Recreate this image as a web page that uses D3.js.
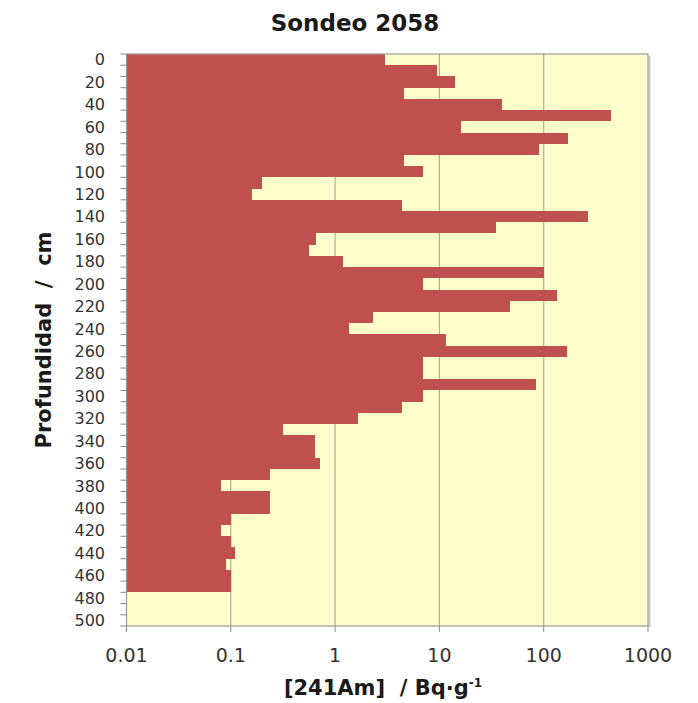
<!DOCTYPE html>
<html>
<head>
<meta charset="utf-8">
<script src="https://cdn.jsdelivr.net/npm/d3@7/dist/d3.min.js"></script>
<style>
  html, body { margin: 0; padding: 0; background: #ffffff; }
  svg { display: block; }
</style>
</head>
<body>
<svg id="chart" width="698" height="703"></svg>
<script>
// Depth of each 10 cm slice (cm)
const depths = [0, 10, 20, 30, 40, 50, 60, 70, 80, 90,
  100, 110, 120, 130, 140, 150, 160, 170, 180, 190,
  200, 210, 220, 230, 240, 250, 260, 270, 280, 290,
  300, 310, 320, 330, 340, 350, 360, 370, 380, 390,
  400, 410, 420, 430, 440, 450, 460, 470, 480, 490, 500];

// 241Am activity per slice (Bq/g); null = no measurement
const activity = [3.0, 9.5, 14, 4.6, 40, 440, 16, 172, 91, 4.6,
  7.0, 0.20, 0.16, 4.4, 265, 35, 0.65, 0.56, 1.2, 100,
  6.9, 133, 48, 2.3, 1.37, 11.6, 166, 6.9, 6.9, 84,
  6.9, 4.4, 1.66, 0.32, 0.64, 0.64, 0.71, 0.24, 0.08, 0.24,
  0.24, 0.10, 0.08, 0.10, 0.11, 0.09, 0.10, 0.10, null, null, null];

const yTickLabels = [0, 20, 40, 60, 80, 100, 120, 140, 160, 180, 200, 220, 240,
  260, 280, 300, 320, 340, 360, 380, 400, 420, 440, 460, 480, 500];
const xTickValues = [0.01, 0.1, 1, 10, 100, 1000];
const xTickLabels = ["0.01", "0.1", "1", "10", "100", "1000"];
const xGridValues = [0.1, 1, 10, 100];

const svg = d3.select("#chart");
const plotLeft = 126.5, plotRight = 648, plotTop = 54, plotBottom = 626;
const font = "'DejaVu Sans', Verdana, sans-serif";
const barColor = "#c0504d";

const x = d3.scaleLog().domain([0.01, 1000]).range([plotLeft, plotRight]);
const y = d3.scaleBand().domain(depths).range([plotTop, plotBottom]).padding(0);

// plot area background
svg.append("rect")
  .attr("x", plotLeft).attr("y", plotTop)
  .attr("width", plotRight - plotLeft).attr("height", plotBottom - plotTop)
  .attr("fill", "#ffffcc");

// vertical gridlines
svg.append("g").selectAll("line").data(xGridValues).join("line")
  .attr("x1", d => x(d)).attr("x2", d => x(d))
  .attr("y1", plotTop).attr("y2", plotBottom)
  .attr("stroke", "#b0b09a").attr("stroke-width", 1.2);

// bars (touching, no gap between slices)
const rows = depths.map((d, i) => ({ depth: d, value: activity[i] }))
  .filter(r => r.value != null);
svg.append("g")
  .attr("shape-rendering", "crispEdges")
  .selectAll("rect").data(rows).join("rect")
  .attr("x", plotLeft)
  .attr("y", r => y(r.depth))
  .attr("width", r => x(r.value) - plotLeft)
  .attr("height", y.bandwidth())
  .attr("fill", barColor);

// plot frame with soft shadow on the right
svg.append("line").attr("x1", plotRight + 1.5).attr("x2", plotRight + 1.5)
  .attr("y1", plotTop + 2).attr("y2", plotBottom + 1)
  .attr("stroke", "#c8c8c8").attr("stroke-width", 2);
svg.append("rect")
  .attr("x", plotLeft).attr("y", plotTop)
  .attr("width", plotRight - plotLeft).attr("height", plotBottom - plotTop)
  .attr("fill", "none").attr("stroke", "#9a9a9a").attr("stroke-width", 1.2);

// y axis ticks at slice boundaries
const yBounds = depths.map(d => y(d)).concat([plotBottom]);
svg.append("g").selectAll("line").data(yBounds).join("line")
  .attr("x1", plotLeft - 6).attr("x2", plotLeft)
  .attr("y1", d => d).attr("y2", d => d)
  .attr("stroke", "#8a8a8a").attr("stroke-width", 1);

// y tick labels
svg.append("g").selectAll("text").data(yTickLabels).join("text")
  .attr("x", 105)
  .attr("y", d => y(d) + y.bandwidth() / 2)
  .attr("dy", "0.36em")
  .attr("text-anchor", "end")
  .attr("font-family", font).attr("font-size", 16)
  .attr("fill", "#333333")
  .text(d => d);

// x axis ticks and labels
svg.append("g").selectAll("line").data(xTickValues).join("line")
  .attr("x1", d => x(d)).attr("x2", d => x(d))
  .attr("y1", plotBottom).attr("y2", plotBottom + 6)
  .attr("stroke", "#8a8a8a").attr("stroke-width", 1);
svg.append("g").selectAll("text").data(xTickValues).join("text")
  .attr("x", d => x(d))
  .attr("y", 662)
  .attr("text-anchor", "middle")
  .attr("font-family", font).attr("font-size", 19)
  .attr("fill", "#333333")
  .text((d, i) => xTickLabels[i]);

// title
svg.append("text")
  .attr("x", 355).attr("y", 31)
  .attr("text-anchor", "middle")
  .attr("font-family", font).attr("font-size", 23).attr("font-weight", "bold")
  .attr("fill", "#1a1a1a")
  .text("Sondeo 2058");

// y axis title
svg.append("text")
  .attr("transform", "translate(51,340) rotate(-90)")
  .attr("text-anchor", "middle")
  .attr("font-family", font).attr("font-size", 21).attr("font-weight", "bold")
  .attr("fill", "#1a1a1a")
  .attr("xml:space", "preserve")
  .text("Profundidad  /  cm");

// x axis title
const xt = svg.append("text")
  .attr("x", 383).attr("y", 695)
  .attr("text-anchor", "middle")
  .attr("font-family", font).attr("font-size", 21).attr("font-weight", "bold")
  .attr("fill", "#1a1a1a")
  .attr("xml:space", "preserve");
xt.append("tspan").text("[241Am]  / Bq·g");
xt.append("tspan").attr("font-size", 12).attr("dy", -8).text("-1");
</script>
</body>
</html>
